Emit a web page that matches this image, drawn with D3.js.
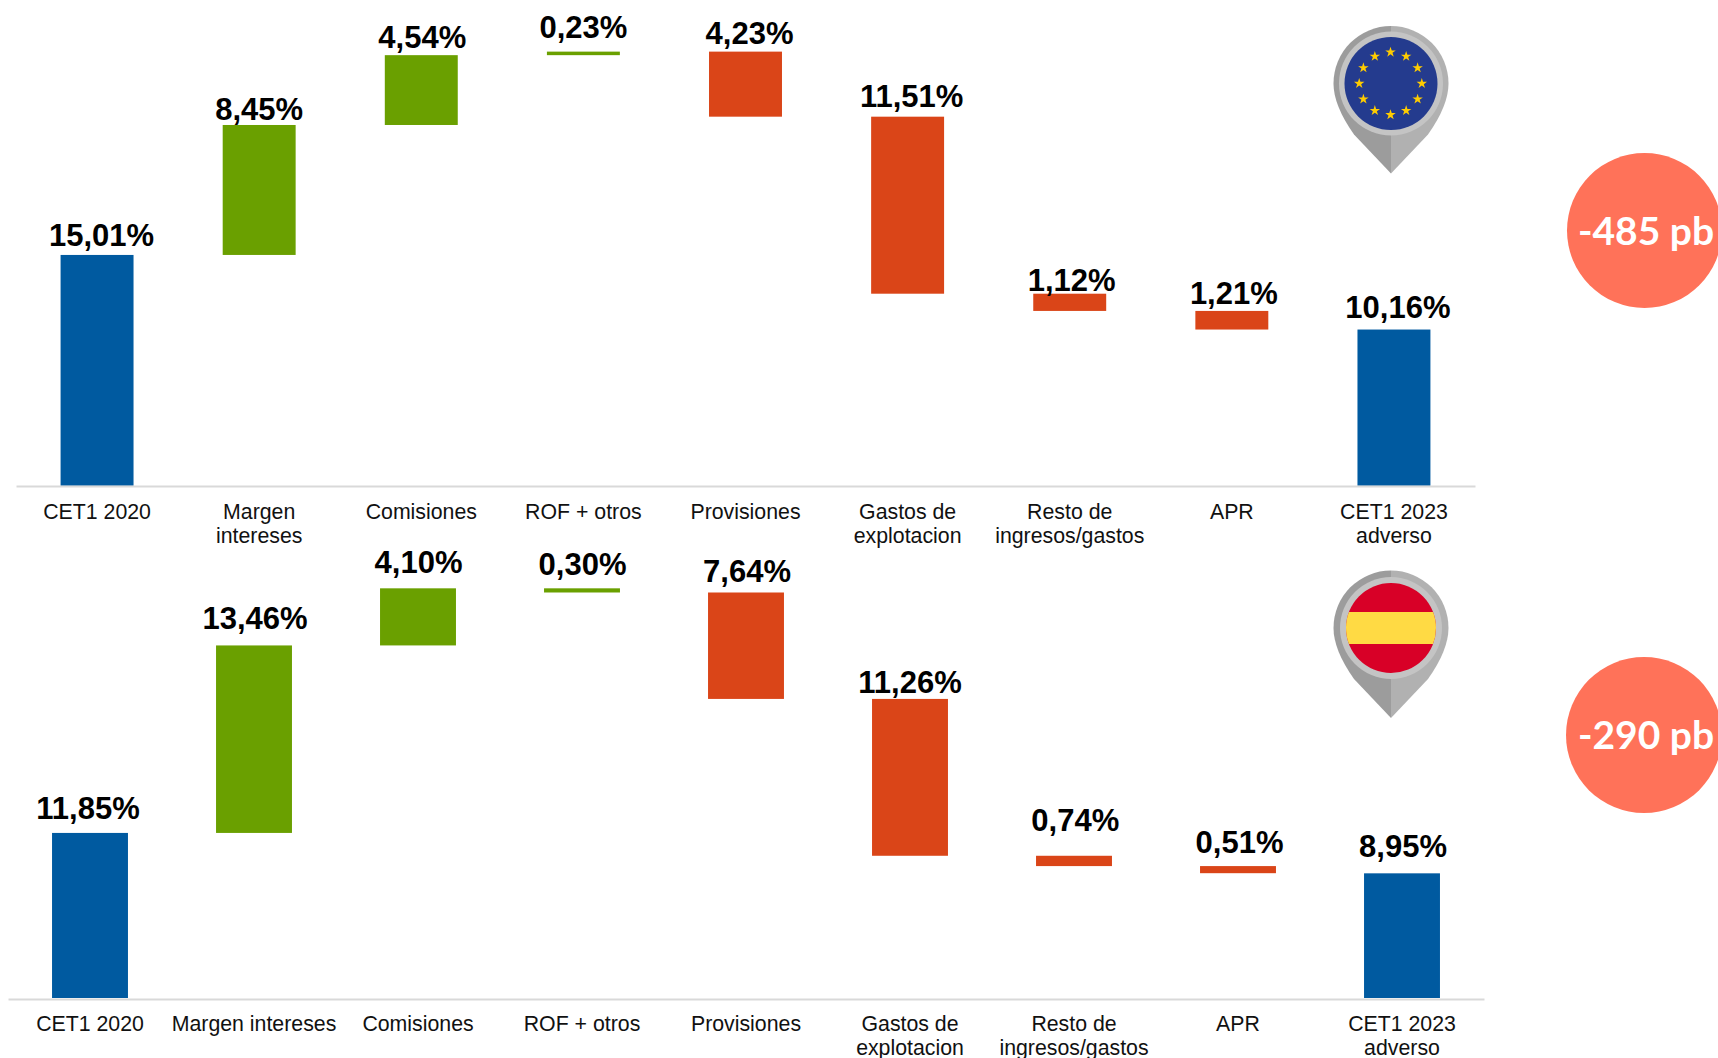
<!DOCTYPE html>
<html>
<head>
<meta charset="utf-8">
<script src="https://cdn.jsdelivr.net/npm/d3@7"></script>
<style>
  html, body { margin: 0; padding: 0; background: #fff; overflow: hidden; }
  svg { display: block; }
</style>
</head>
<body>
<svg id="chart" width="1718" height="1058"></svg>
<script>
const categoriesEU = ["CET1 2020", "Margen\nintereses", "Comisiones", "ROF + otros", "Provisiones", "Gastos de\nexplotacion", "Resto de\ningresos/gastos", "APR", "CET1 2023\nadverso"];
const categoriesES = ["CET1 2020", "Margen intereses", "Comisiones", "ROF + otros", "Provisiones", "Gastos de\nexplotacion", "Resto de\ningresos/gastos", "APR", "CET1 2023\nadverso"];

// signed steps of the waterfall, the first and last are totals
const valuesEU = [15.01, 8.45, 4.54, 0.23, -4.23, -11.51, -1.12, -1.21, 10.16];
// ROF is green in the picture but the bar sits below the top of Comisiones
const valuesES = [11.85, 13.46, 4.1, -0.3, -7.64, -11.26, -0.74, -0.51, 8.95];
const barKinds = ["total", "up", "up", "up", "down", "down", "down", "down", "total"];

const COLORS = { total: "#005AA0", up: "#6AA000", down: "#DA4518" };

const locale = d3.formatLocale({ decimal: ",", thousands: ".", grouping: [3], currency: ["", ""] });
const fmt = locale.format(".2f");

const svg = d3.select("#chart");

function drawPanel(cfg) {
  // paddingOuter is half of paddingInner so the step is range / 9
  const x = d3.scaleBand()
    .domain(cfg.categories)
    .range(cfg.xRange)
    .paddingInner(cfg.padding)
    .paddingOuter(cfg.padding / 2);
  const y = d3.scaleLinear().domain([0, 30]).range([cfg.baseline, cfg.baseline - 30 * cfg.pxPerUnit]);

  // running total for the floating bars
  let running = 0;
  const bars = cfg.values.map((v, i) => {
    const isTotal = i === 0 || i === cfg.values.length - 1;
    const from = isTotal ? 0 : running;
    const to = isTotal ? v : running + v;
    running = to;
    return { cat: cfg.categories[i], value: v, low: Math.min(from, to), high: Math.max(from, to), kind: barKinds[i], i };
  });

  const g = svg.append("g");

  g.selectAll("rect")
    .data(bars)
    .enter()
    .append("rect")
    .attr("x", (d) => x(d.cat))
    .attr("width", x.bandwidth())
    .attr("y", (d) => y(d.high))
    .attr("height", (d) => y(d.low) - y(d.high))
    .attr("fill", (d) => COLORS[d.kind]);

  g.selectAll("text.value")
    .data(bars)
    .enter()
    .append("text")
    .attr("class", "value")
    .attr("x", (d) => x(d.cat) + x.bandwidth() / 2 + cfg.labelDx[d.i])
    .attr("y", (d) => y(d.high) - cfg.labelGap[d.i])
    .attr("text-anchor", "middle")
    .attr("font-family", "Liberation Sans")
    .attr("font-weight", "bold")
    .attr("font-size", 31)
    .attr("fill", "#000")
    .text((d) => fmt(Math.abs(d.value)) + "%");

  const axis = g.append("g")
    .attr("transform", `translate(0, ${Math.floor(cfg.baseline) + 1})`)
    .call(d3.axisBottom(x).tickSize(0).tickPadding(0));
  axis.select(".domain").attr("stroke", "#D9D9D9").attr("stroke-width", 2);
  axis.selectAll(".tick text").each(function (d) {
    const t = d3.select(this);
    t.text(null)
      .attr("y", 0)
      .attr("dy", null)
      .attr("font-family", "Liberation Sans")
      .attr("font-size", 21.3)
      .attr("fill", "#111");
    d.split("\n").forEach((line, k) => {
      t.append("tspan")
        .attr("x", 0)
        .attr("y", cfg.tickOffset + k * 24)
        .text(line);
    });
  });
}

function drawPin(cx, cy, ringR, flag) {
  const g = svg.append("g").attr("transform", `translate(${cx}, ${cy})`);
  const R = 57.5;
  const tip = 90;
  g.append("path")
    .attr("d", `M0,${-R} A${R},${R} 0 0 0 ${-R},0 Q${-R},22 -37,51 L0,${tip} Z`)
    .attr("fill", "#9C9C9C");
  g.append("path")
    .attr("d", `M0,${-R} A${R},${R} 0 0 1 ${R},0 Q${R},22 37,51 L0,${tip} Z`)
    .attr("fill", "#B1B1B1");
  g.append("circle").attr("r", ringR).attr("fill", "#C4C4C4");
  flag(g);
}

function flagEU(g) {
  g.append("circle").attr("r", 46.5).attr("fill", "#243B8E");
  const star = d3.symbol().type(d3.symbolStar).size(34);
  g.selectAll("path.star")
    .data(d3.range(12))
    .enter()
    .append("path")
    .attr("class", "star")
    .attr("d", star)
    .attr("fill", "#FFCC00")
    .attr("transform", (d) => {
      const a = (d * 30 * Math.PI) / 180;
      return `translate(${31.3 * Math.sin(a) - 0.5}, ${-31.3 * Math.cos(a)})`;
    });
}

function flagES(g) {
  const r = 45;
  g.append("clipPath").attr("id", "es-clip").append("circle").attr("r", r);
  const f = g.append("g").attr("clip-path", "url(#es-clip)");
  f.append("rect").attr("x", -r).attr("y", -r).attr("width", 2 * r).attr("height", 2 * r).attr("fill", "#D80027");
  f.append("rect").attr("x", -r).attr("y", -16).attr("width", 2 * r).attr("height", 32).attr("fill", "#FFDA44");
}

function drawBadge(cx, cy, r, label) {
  svg.append("circle").attr("cx", cx).attr("cy", cy).attr("r", r).attr("fill", "#FF7259");
  svg.append("text")
    .attr("x", 1646)
    .attr("y", cy + 14)
    .attr("text-anchor", "middle")
    .attr("font-family", "Lato")
    .attr("font-weight", "bold")
    .attr("font-size", 39)
    .attr("fill", "#fff")
    .text(label);
}

drawPanel({
  categories: categoriesEU,
  values: valuesEU,
  xRange: [16, 1475],
  padding: 0.55,
  baseline: 485.8,
  pxPerUnit: 15.38,
  tickOffset: 33,
  labelDx: [4.5, 0, 1, 0, 4, 4, 2, 2, 4],
  labelGap: [8.5, 4.5, 7.5, 14, 7.5, 10, 2.5, 7, 11.5],
});

drawPanel({
  categories: categoriesES,
  values: valuesES,
  xRange: [8, 1484],
  padding: 0.537,
  baseline: 998,
  pxPerUnit: 13.93,
  tickOffset: 32,
  labelDx: [-2, 1, 0.5, 0.5, 1, 0, 1.3, 1.5, 1],
  labelGap: [14, 16, 15, 13, 10, 6, 24.5, 13.5, 16],
});

drawPin(1391, 83.5, 52, flagEU);
drawPin(1391, 628, 51, flagES);

drawBadge(1644.5, 230.5, 77.5, "-485 pb");
drawBadge(1644, 735, 78, "-290 pb");
</script>
</body>
</html>
